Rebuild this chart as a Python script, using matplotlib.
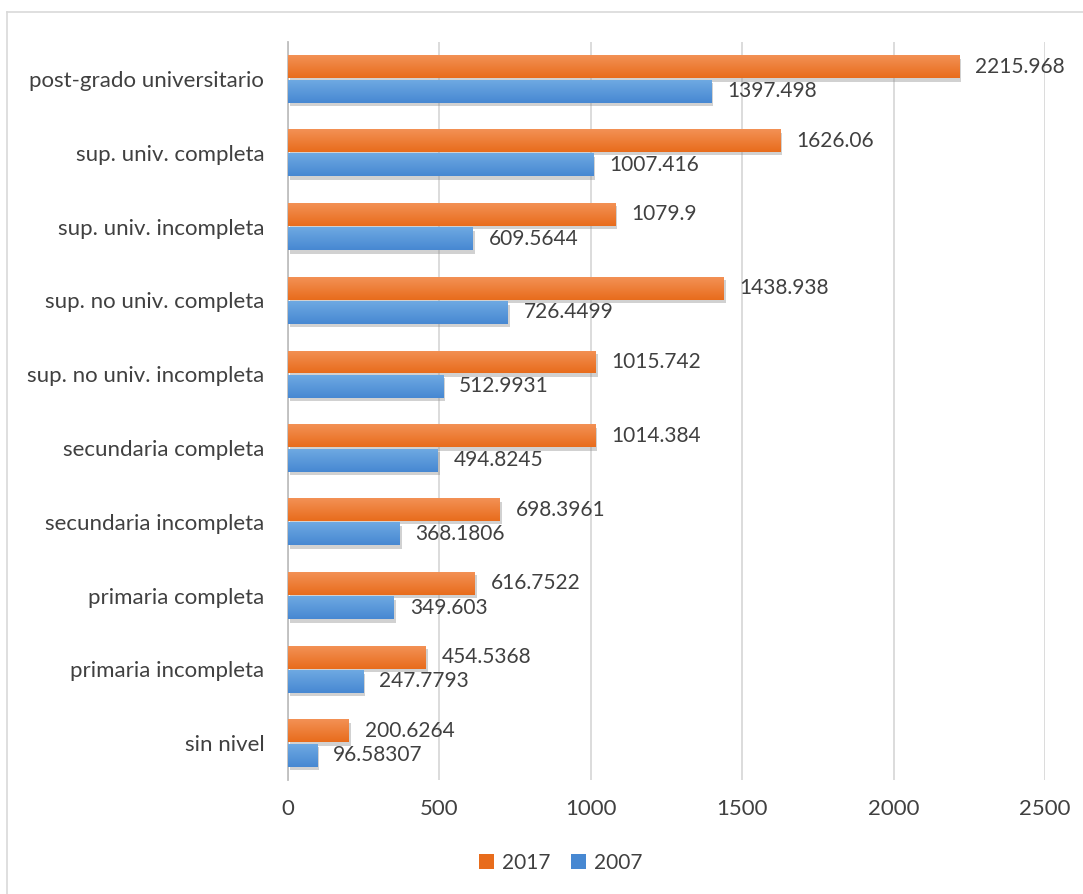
import numpy as np
import matplotlib
matplotlib.use("Agg")
import matplotlib.pyplot as plt
import matplotlib.patheffects as pe
from matplotlib.lines import Line2D
from matplotlib.patches import Patch

plt.rcParams['font.family'] = ['Lato', 'DejaVu Sans']

categories = ['sin nivel', 'primaria incompleta', 'primaria completa',
              'secundaria incompleta', 'secundaria completa',
              'sup. no univ. incompleta', 'sup. no univ. completa',
              'sup. univ. incompleta', 'sup. univ. completa',
              'post-grado universitario']
vals_2017 = [200.6264, 454.5368, 616.7522, 698.3961, 1014.384,
             1015.742, 1438.938, 1079.9, 1626.06, 2215.968]
vals_2007 = [96.58307, 247.7793, 349.603, 368.1806, 494.8245,
             512.9931, 726.4499, 609.5644, 1007.416, 1397.498]
xticks = [0, 500, 1000, 1500, 2000, 2500]

orange = ('#F39155', '#E86C1C')
blue = ('#6EA9E2', '#4788D2')
text_col = '#404040'

fig = plt.figure(figsize=(10.83, 8.94), dpi=100)
ax = fig.add_axes([0.2659, 0.1275, 0.6990, 0.8255])

# light frame around the chart area
fig.add_artist(Line2D([7 / 1083, 7 / 1083], [0, 1 - 12 / 894],
                      transform=fig.transFigure, color='#D9D9D9', lw=1.2))
fig.add_artist(Line2D([7 / 1083, 1], [1 - 12 / 894, 1 - 12 / 894],
                      transform=fig.transFigure, color='#D9D9D9', lw=1.2))

y = np.arange(len(categories))
h = 0.31
off = 0.165


def gradient_bars(ys, vals, cols):
    bars = ax.barh(ys, vals, height=h, color=cols[1], zorder=2,
                   path_effects=[pe.SimplePatchShadow(offset=(1.5, -2.5),
                                                      shadow_rgbFace='#8c8c8c',
                                                      alpha=0.4),
                                 pe.Normal()])
    grad = np.linspace(0, 1, 64).reshape(-1, 1)
    cmap = matplotlib.colors.LinearSegmentedColormap.from_list('g', [cols[0], cols[1]])
    for b in bars:
        x0, y0 = b.get_x(), b.get_y()
        # row 0 (light) sits at the top edge of the bar
        im = ax.imshow(grad, cmap=cmap, aspect='auto', zorder=3,
                       extent=[x0, x0 + b.get_width(), y0, y0 + b.get_height()],
                       interpolation='bilinear')
        im.set_clip_path(b)
    return bars


b17 = gradient_bars(y + off, vals_2017, orange)
b07 = gradient_bars(y - off, vals_2007, blue)

for yy, v in zip(y + off, vals_2017):
    ax.annotate(repr(v), (v, yy), xytext=(11.5, 0), textcoords='offset points',
                va='center', ha='left', fontsize=15, color=text_col)
for yy, v in zip(y - off, vals_2007):
    ax.annotate(repr(v), (v, yy), xytext=(11.5, 0), textcoords='offset points',
                va='center', ha='left', fontsize=15, color=text_col)

ax.set_xlim(0, 2500)
ax.set_ylim(-0.5, len(categories) - 0.5)
ax.set_xticks(xticks)
ax.set_yticks(y)
ax.set_yticklabels(categories)
ax.tick_params(axis='both', length=0, labelsize=16, colors=text_col)
ax.tick_params(axis='x', pad=14)
ax.tick_params(axis='y', pad=17)
ax.xaxis.grid(True, color='#D9D9D9', lw=1.3, zorder=0)
ax.set_axisbelow(True)
for s in ['top', 'right', 'bottom']:
    ax.spines[s].set_visible(False)
ax.spines['left'].set_color('#BFBFBF')
ax.spines['left'].set_linewidth(1.3)

handles = [Patch(facecolor=orange[1], label='2017'),
           Patch(facecolor=blue[1], label='2007')]
fig.legend(handles=handles, loc='center', bbox_to_anchor=(0.518, 0.035),
           ncol=2, frameon=False, fontsize=15, handlelength=0.7,
           handleheight=0.7, handletextpad=0.4, columnspacing=1.0,
           labelcolor=text_col)

fig.savefig('out.png', dpi=100)
